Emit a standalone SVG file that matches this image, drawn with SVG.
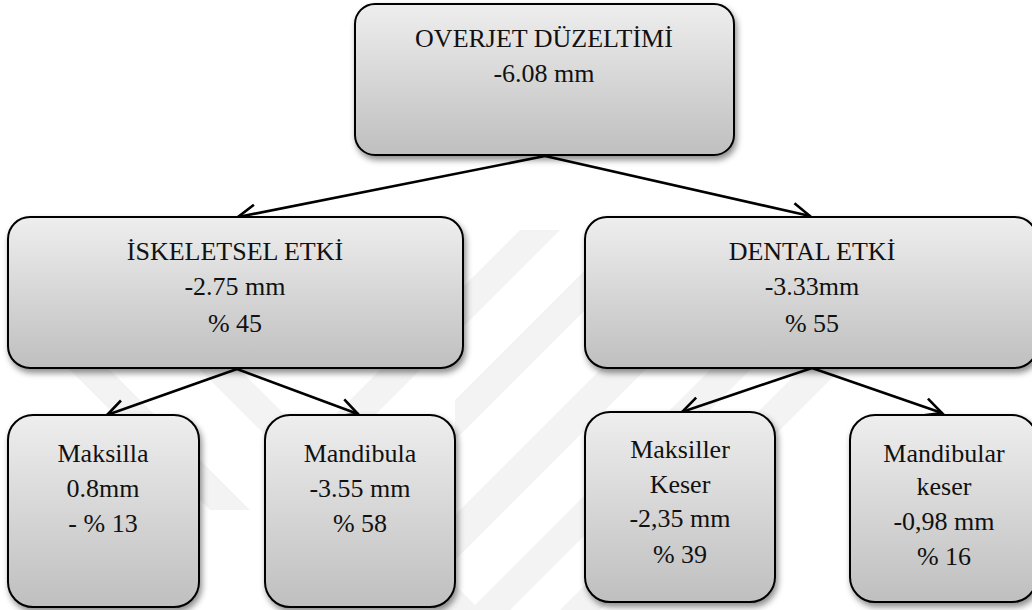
<svg xmlns="http://www.w3.org/2000/svg" width="1032" height="610" viewBox="0 0 1032 610">
<defs>
<linearGradient id="g" x1="0" y1="0" x2="0" y2="1">
<stop offset="0" stop-color="#eeeeee"/>
<stop offset="1" stop-color="#bfbfbf"/>
</linearGradient>
<filter id="sh" x="-10%" y="-10%" width="125%" height="130%">
<feDropShadow dx="2" dy="4" stdDeviation="3" flood-color="#000" flood-opacity="0.45"/>
</filter>
<marker id="arr" markerUnits="userSpaceOnUse" viewBox="-22 -12 26 24" refX="0" refY="0" markerWidth="26" markerHeight="24" orient="auto">
<path d="M-18,-9 L0,0 L-18,9" fill="none" stroke="#000" stroke-width="2.6" stroke-linejoin="miter"/>
</marker>
<clipPath id="wm"><rect x="0" y="230" width="1032" height="380"/></clipPath>
</defs>
<style>
.box{fill:url(#g);stroke:#000;stroke-width:2;filter:url(#sh)}
.c{stroke:#000;stroke-width:2.6;fill:none;marker-end:url(#arr)}
.w{fill:#f3f3f3}
</style>
<rect width="1032" height="610" fill="#fff"/>
<g id="watermark" clip-path="url(#wm)">
<polygon class="w" points="455,440 455,400 640,215 680,215"/>
<polygon class="w" points="455,560 455,515 740,230 785,230"/>
<polygon class="w" points="470,610 510,610 1032,88 1032,48"/>
<polygon class="w" points="560,610 600,610 1032,178 1032,138"/>
<polygon class="w" points="60,360 100,360 250,510 210,510"/>
<polygon class="w" points="190,360 230,360 480,610 440,610"/>
<polygon class="w" points="330,420 370,420 560,230 520,230"/>
</g>
<g id="connectors">
<line class="c" x1="545" y1="156" x2="238" y2="217"/>
<line class="c" x1="545" y1="156" x2="810" y2="216"/>
<line class="c" x1="237" y1="369" x2="107" y2="415"/>
<line class="c" x1="237" y1="369" x2="358" y2="414"/>
<line class="c" x1="812" y1="368" x2="682" y2="412"/>
<line class="c" x1="812" y1="368" x2="942" y2="413"/>
</g>
<g font-family="Liberation Serif" font-size="26" fill="#111" text-anchor="middle">
<g id="n-overjet">
<rect class="box" x="355" y="4" width="379" height="151" rx="20"/>
<text x="544" y="47">OVERJET DÜZELTİMİ</text>
<text x="544" y="82">-6.08 mm</text>
</g>
<g id="n-iskelet">
<rect class="box" x="8" y="217" width="455" height="151" rx="22"/>
<text x="235" y="260">İSKELETSEL ETKİ</text>
<text x="235" y="295">-2.75 mm</text>
<text x="235" y="332">% 45</text>
</g>
<g id="n-dental">
<rect class="box" x="585" y="217" width="452" height="151" rx="22"/>
<text x="812" y="260">DENTAL ETKİ</text>
<text x="812" y="295">-3.33mm</text>
<text x="812" y="332">% 55</text>
</g>
<g id="n-maksilla">
<rect class="box" x="8" y="415" width="191" height="192" rx="25"/>
<text x="103" y="462">Maksilla</text>
<text x="103" y="497">0.8mm</text>
<text x="103" y="532">- % 13</text>
</g>
<g id="n-mandibula">
<rect class="box" x="265" y="415" width="190" height="192" rx="25"/>
<text x="360" y="462">Mandibula</text>
<text x="360" y="497">-3.55 mm</text>
<text x="360" y="532">% 58</text>
</g>
<g id="n-maksiller">
<rect class="box" x="585" y="412" width="190" height="190" rx="25"/>
<text x="680" y="458">Maksiller</text>
<text x="680" y="493">Keser</text>
<text x="680" y="527">-2,35 mm</text>
<text x="680" y="563">% 39</text>
</g>
<g id="n-mandibular">
<rect class="box" x="850" y="415" width="187" height="187" rx="25"/>
<text x="944" y="462">Mandibular</text>
<text x="944" y="495">keser</text>
<text x="944" y="530">-0,98 mm</text>
<text x="944" y="565">% 16</text>
</g>
</g>
</svg>
